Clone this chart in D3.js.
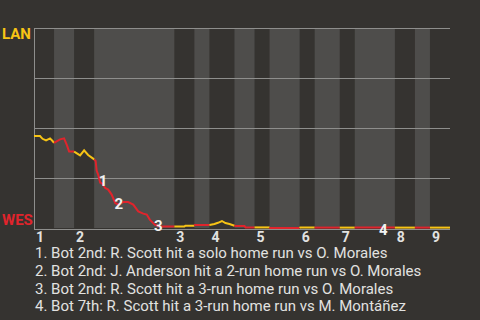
<!DOCTYPE html>
<html>
<head>
<meta charset="utf-8">
<script src="https://cdn.jsdelivr.net/npm/d3@7"></script>
<style>
  html, body { margin: 0; padding: 0; background: #353330; }
  svg { display: block; }
  text { font-family: Roboto, "Noto Sans", sans-serif; }
</style>
</head>
<body>
<svg id="chart" width="480" height="320"></svg>
<script>
// Teams: away on top of the scale, home at the bottom
const awayTeam = "LAN";
const homeTeam = "WES";

// Inning labels and plate appearances per half-inning (top, bottom, top, ...)
const innings = ["1", "2", "3", "4", "5", "6", "7", "8", "9"];
const halfInningPAs = [4, 4, 4, 16, 4, 3, 5, 4, 3, 6, 3, 5, 3, 8, 4, 3, 4];

// Win probability for the away team (%), by play index
const playIndex = [
  0, 1.2, 1.7, 2.4, 3.2, 3.7, 4,
  5.2, 6, 6.6, 7.0, 8,
  9.2, 10, 10.8, 11.8, 12,
  12.3, 12.5, 12.8, 13.2, 13.5, 14.2, 14.8, 15.5, 16.2, 16.8, 17.8, 18.8, 19.8, 20.8, 21.8, 22.5, 23.1, 24.1, 25.1, 28,
  30, 30.2, 32,
  32.1, 35,
  36, 36.7, 37.5, 38.2, 39, 40,
  40.2, 42, 42.2, 44,
  47,
  47.1, 53,
  53.1, 56, 61, 64, 72, 76, 79, 83
];
const awayWinPct = [
  46, 46, 44.6, 43.8, 44.8, 43.5, 42.6,
  44.3, 44.8, 41.2, 38.2, 38.2,
  36.3, 38.8, 36.5, 34.7, 34.2,
  33.5, 28.7, 26.7, 22.7, 22.5, 20, 19.2, 16.7, 12.5, 11.7, 13, 13, 11.7, 8.3, 7.2, 6.7, 4.2, 1.7, 0.8, 0.7,
  0.7, 1.15, 1.15,
  1.5, 1.5,
  2.0, 2.6, 3.5, 2.5, 2.0, 1.15,
  1.0, 1.0, 0.3, 0.3,
  0.3,
  0.0, 0.0,
  0.2, 0.2, 0.2, 0.2, 0.2, 0.2, 0.2, 0.2
];

// Key plays marked on the line
const eventIndex = [13.0, 16.1, 24.0, 68.9];
const eventNotes = [
  "Bot 2nd: R. Scott hit a solo home run vs O. Morales",
  "Bot 2nd: J. Anderson hit a 2-run home run vs O. Morales",
  "Bot 2nd: R. Scott hit a 3-run home run vs O. Morales",
  "Bot 7th: R. Scott hit a 3-run home run vs M. Montáñez"
];

const colors = {
  away: "#f7c415",
  home: "#e0242c",
  band: "#4e4d4b",
  grid: "#8e8e8c",
  text: "#e2e2e0"
};

const margin = { top: 28, right: 30, bottom: 92, left: 34 };
const width = 480, height = 320;
const plotW = width - margin.left - margin.right;
const plotH = height - margin.top - margin.bottom;

const svg = d3.select("#chart");
const g = svg.append("g").attr("transform", `translate(${margin.left},${margin.top})`);

const totalPAs = d3.sum(halfInningPAs);
const x = d3.scaleLinear().domain([0, totalPAs]).range([0, plotW]);
const y = d3.scaleLinear().domain([0, 100]).range([plotH, 0]);

// Half-inning boundaries
const bounds = [0, ...d3.cumsum(halfInningPAs)];
const halves = halfInningPAs.map((n, i) => ({ start: bounds[i], end: bounds[i + 1], top: i % 2 === 0, inning: Math.floor(i / 2) }));

// Shaded bands for the home team's half-innings
g.selectAll("rect.band")
  .data(halves.filter(h => !h.top))
  .join("rect")
  .attr("class", "band")
  .attr("x", d => x(d.start))
  .attr("y", 0)
  .attr("width", d => x(d.end) - x(d.start))
  .attr("height", plotH)
  .attr("fill", colors.band);

// Horizontal grid lines
g.selectAll("line.grid")
  .data([25, 50, 75, 100])
  .join("line")
  .attr("class", "grid")
  .attr("x1", 0).attr("x2", plotW)
  .attr("y1", d => Math.round(y(d)) + 0.5).attr("y2", d => Math.round(y(d)) + 0.5)
  .attr("stroke", colors.grid).attr("stroke-width", 1);

// Left and bottom axis lines
g.append("line")
  .attr("x1", 0.5).attr("x2", 0.5)
  .attr("y1", 0).attr("y2", plotH + 2)
  .attr("stroke", colors.grid);
g.append("line")
  .attr("x1", 0).attr("x2", plotW)
  .attr("y1", plotH + 1.5).attr("y2", plotH + 1.5)
  .attr("stroke", colors.grid);

// Win probability line, coloured by which team is batting
const pts = playIndex.map((p, i) => ({ p, v: awayWinPct[i] }));
const line = d3.line().x(d => x(d.p)).y(d => y(d.v));
halves.forEach(h => {
  const seg = pts.filter(d => d.p >= h.start && d.p <= h.end);
  const prev = pts.filter(d => d.p < h.start).pop();
  if (prev && (!seg.length || seg[0].p > h.start)) {
    seg.unshift({ p: h.start, v: prev.v });
  }
  g.append("path")
    .datum(seg)
    .attr("d", line)
    .attr("fill", "none")
    .attr("stroke", h.top ? colors.away : colors.home)
    .attr("stroke-width", 2)
    .attr("stroke-linejoin", "miter");
});

// Inning numbers along the bottom
g.selectAll("text.inning")
  .data(halves.filter(h => h.top))
  .join("text")
  .attr("class", "inning")
  .attr("x", d => x(d.start) + 2)
  .attr("y", plotH + 14)
  .attr("fill", colors.text)
  .attr("font-size", 14)
  .attr("font-weight", "bold")
  .text(d => innings[d.inning]);

// Event markers
const valueAt = d3.scaleLinear().domain(playIndex).range(awayWinPct);
g.selectAll("text.event")
  .data(eventIndex)
  .join("text")
  .attr("class", "event")
  .attr("x", d => x(d) + 4)
  .attr("y", d => y(valueAt(d)) + 2)
  .attr("text-anchor", "middle")
  .attr("dominant-baseline", "central")
  .attr("fill", "#f2f2f2")
  .attr("font-size", 15)
  .attr("font-weight", "bold")
  .text((d, i) => i + 1);

// Team labels at each end of the scale
svg.append("text")
  .attr("x", 2).attr("y", margin.top + 11)
  .attr("fill", colors.away)
  .attr("font-size", 15).attr("font-weight", "bold")
  .text(awayTeam);
svg.append("text")
  .attr("x", 2).attr("y", margin.top + plotH - 3)
  .attr("fill", colors.home)
  .attr("font-size", 15).attr("font-weight", "bold")
  .text(homeTeam);

// Notes for each marked play
svg.selectAll("text.note")
  .data(eventNotes)
  .join("text")
  .attr("class", "note")
  .attr("x", 35)
  .attr("y", (d, i) => 258 + i * 17.8)
  .attr("fill", colors.text)
  .attr("font-size", 15)
  .text((d, i) => `${i + 1}. ${d}`);
</script>
</body>
</html>
